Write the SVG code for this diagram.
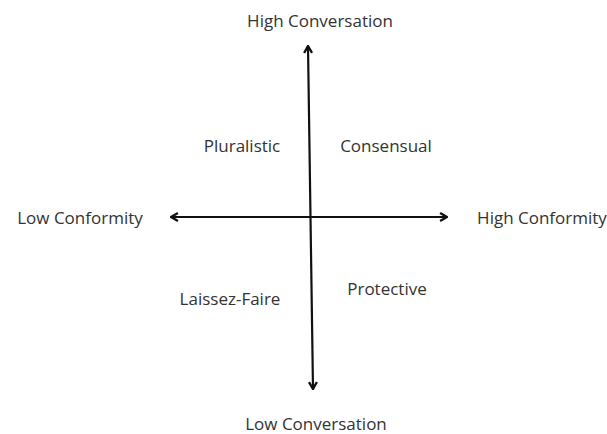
<svg xmlns="http://www.w3.org/2000/svg" width="607" height="434" viewBox="0 0 607 434">
<defs>
<marker id="ah" viewBox="0 0 10 10" refX="8.5" refY="5" markerWidth="4.5" markerHeight="4.5" orient="auto-start-reverse" markerUnits="strokeWidth">
<path d="M1.5,1 L8.5,5 L1.5,9" fill="none" stroke="#111" stroke-width="2.4" stroke-linejoin="miter"/>
</marker>
<style>
text{font-family:"Open Sans","Liberation Sans",sans-serif;font-size:17px;fill:#333;}
.axis{stroke:#111;stroke-width:2.2;fill:none;}
</style>
</defs>
<rect width="607" height="434" fill="#fff"/>
<g id="connectors">
<line class="axis" x1="308" y1="46" x2="313" y2="389" marker-start="url(#ah)" marker-end="url(#ah)"/>
<line class="axis" x1="171" y1="217" x2="447" y2="217" marker-start="url(#ah)" marker-end="url(#ah)"/>
</g>
<g id="high-conversation"><text x="320" y="27" text-anchor="middle">High Conversation</text></g>
<g id="low-conversation"><text x="316" y="430" text-anchor="middle">Low Conversation</text></g>
<g id="low-conformity"><text x="80" y="224" text-anchor="middle">Low Conformity</text></g>
<g id="high-conformity"><text x="542" y="224" text-anchor="middle">High Conformity</text></g>
<g id="pluralistic"><text x="242" y="152" text-anchor="middle">Pluralistic</text></g>
<g id="consensual"><text x="386" y="152" text-anchor="middle">Consensual</text></g>
<g id="laissez-faire"><text x="230" y="305" text-anchor="middle">Laissez-Faire</text></g>
<g id="protective"><text x="387" y="295" text-anchor="middle">Protective</text></g>
</svg>
